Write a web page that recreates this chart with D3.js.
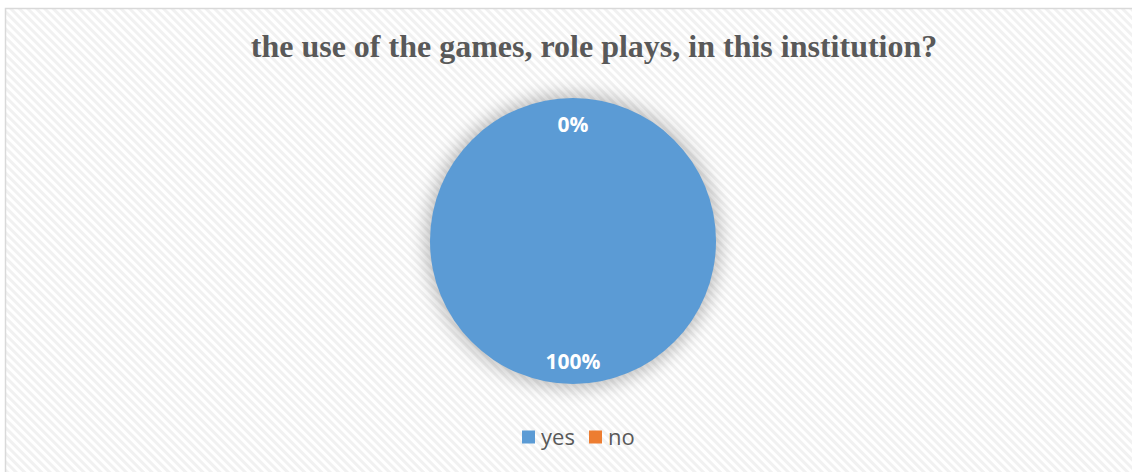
<!DOCTYPE html>
<html>
<head>
<meta charset="utf-8">
<script src="https://cdn.jsdelivr.net/npm/d3@7"></script>
<style>
  html, body { margin: 0; padding: 0; background: #ffffff; }
  svg { display: block; }
</style>
</head>
<body>
<svg id="chart" width="1132" height="472"></svg>
<script>
// Survey answers
const categories = ["yes", "no"];
const values = [100, 0];
const colors = ["#5B9BD5", "#ED7D31"];
const title = "the use of the games, role plays, in this institution?";

const W = 1132, H = 472;
const svg = d3.select("#chart");
const defs = svg.append("defs");

// light diagonal hatching for the chart area
const pat = defs.append("pattern")
  .attr("id", "hatch")
  .attr("patternUnits", "userSpaceOnUse")
  .attr("width", 6).attr("height", 6)
  .attr("patternTransform", "rotate(-45)");
pat.append("rect").attr("width", 6).attr("height", 6).attr("fill", "#ffffff");
pat.append("rect").attr("x", 0).attr("width", 3).attr("height", 6).attr("fill", "#f1f1f1");

// soft glow behind the pie
const glow = defs.append("filter").attr("id", "glow")
  .attr("x", "-40%").attr("y", "-40%").attr("width", "180%").attr("height", "180%");
glow.append("feGaussianBlur").attr("stdDeviation", 9);

// chart frame
svg.append("rect")
  .attr("x", 5.5).attr("y", 8.5)
  .attr("width", W + 10).attr("height", H + 10)
  .attr("fill", "url(#hatch)")
  .attr("stroke", "#d9d9d9").attr("stroke-width", 1.5);

// title
svg.append("text")
  .attr("x", 594).attr("y", 57)
  .attr("text-anchor", "middle")
  .attr("font-family", "'Liberation Serif', 'Times New Roman', serif")
  .attr("font-weight", "bold")
  .attr("font-size", 32)
  .attr("fill", "#595959")
  .text(title);

// pie
const cx = 573, cy = 241, r = 143;
const g = svg.append("g").attr("transform", `translate(${cx},${cy})`);

g.append("circle")
  .attr("r", r + 4)
  .attr("fill", "#000")
  .attr("opacity", 0.25)
  .attr("filter", "url(#glow)");

const pie = d3.pie().sort(null).value(d => d.value);
const data = categories.map((c, i) => ({ name: c, value: values[i], color: colors[i] }));
const arcs = pie(data);
const arc = d3.arc().innerRadius(0).outerRadius(r);
const labelArc = d3.arc().innerRadius(r * 0.83).outerRadius(r * 0.83);

g.selectAll("path.slice")
  .data(arcs)
  .join("path")
  .attr("class", "slice")
  .attr("d", arc)
  .attr("fill", d => d.data.color);

const total = d3.sum(values);
g.selectAll("text.lbl")
  .data(arcs)
  .join("text")
  .attr("class", "lbl")
  .attr("transform", d => {
    const [x, y] = labelArc.centroid(d);
    return `translate(${x},${y + 2})`;
  })
  .attr("dy", "0.35em")
  .attr("text-anchor", "middle")
  .attr("font-family", "'Open Sans', 'Liberation Sans', sans-serif")
  .attr("font-weight", "bold")
  .attr("font-size", 21)
  .attr("fill", "#ffffff")
  .text(d => Math.round(d.data.value / total * 100) + "%");

// legend
const legend = svg.append("g").attr("transform", "translate(522,437)");
const legendX = [0, 67];
const items = legend.selectAll("g")
  .data(data)
  .join("g")
  .attr("transform", (d, i) => `translate(${legendX[i]},0)`);
items.append("rect")
  .attr("x", 0).attr("y", -6.5)
  .attr("width", 13).attr("height", 13)
  .attr("fill", d => d.color);
items.append("text")
  .attr("x", 19).attr("y", 0)
  .attr("dy", "0.35em")
  .attr("font-family", "'Open Sans', 'Liberation Sans', sans-serif")
  .attr("font-size", 22)
  .attr("fill", "#595959")
  .text(d => d.name);
</script>
</body>
</html>
